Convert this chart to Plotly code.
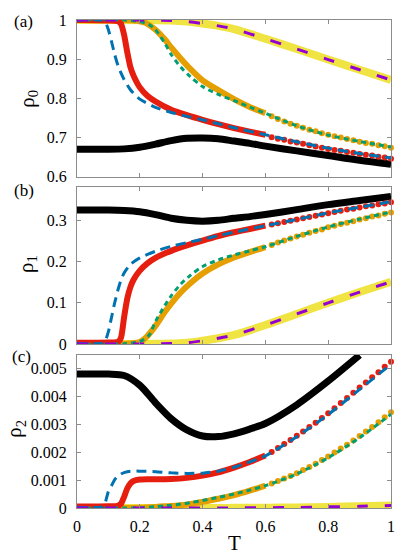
import plotly.graph_objects as go

# ---------------- data ----------------
# black: dense markers over the whole range
T_black = [0, 0.1, 0.15, 0.2, 0.25, 0.3, 0.35, 0.4, 0.45, 0.5, 0.55, 0.6, 0.7, 0.8, 0.9, 1.0]
black_a = [0.670, 0.670, 0.671, 0.675, 0.683, 0.692, 0.698, 0.699, 0.697, 0.691, 0.685, 0.678, 0.666, 0.654, 0.642, 0.632]
black_b = [0.325, 0.325, 0.324, 0.321, 0.314, 0.305, 0.300, 0.298, 0.300, 0.305, 0.309, 0.314, 0.326, 0.338, 0.348, 0.358]
T_black_c = [0, 0.1, 0.15, 0.2, 0.25, 0.3, 0.35, 0.4, 0.45, 0.5, 0.55, 0.6, 0.7, 0.8, 0.9]
black_c = [0.0048, 0.0048, 0.00475, 0.0044, 0.00377, 0.0032, 0.0028, 0.00258, 0.00256, 0.00266, 0.00283, 0.00303, 0.0037, 0.00455, 0.00548]

# red: dense markers up to T=0.6, sparse markers afterwards
T_red = [0, 0.1, 0.13, 0.14, 0.15, 0.16, 0.17, 0.18, 0.2, 0.225, 0.25, 0.3, 0.35, 0.4, 0.45, 0.5, 0.55, 0.6]
red_a = [1.0, 0.999, 0.997, 0.99, 0.962, 0.918, 0.880, 0.858, 0.828, 0.806, 0.792, 0.771, 0.757, 0.745, 0.734, 0.724, 0.715, 0.707]
red_b = [0.003, 0.004, 0.005, 0.015, 0.065, 0.110, 0.138, 0.156, 0.178, 0.196, 0.209, 0.226, 0.239, 0.251, 0.262, 0.271, 0.279, 0.287]
red_c = [0.00005, 0.00006, 0.00008, 0.00015, 0.0004, 0.0007, 0.00088, 0.00097, 0.00102, 0.00103, 0.00103, 0.00104, 0.00108, 0.00116, 0.00128, 0.00145, 0.00165, 0.00188]

T_sparse = [0.62, 0.64, 0.66, 0.68, 0.70, 0.72, 0.74, 0.76, 0.78, 0.80,
            0.82, 0.84, 0.86, 0.88, 0.90, 0.92, 0.94, 0.96, 0.98, 1.00]
red_a_s = [0.701, 0.697, 0.694, 0.690, 0.687, 0.684, 0.680, 0.677, 0.674, 0.671,
           0.668, 0.666, 0.663, 0.661, 0.658, 0.656, 0.654, 0.651, 0.649, 0.646]
red_b_s = [0.290, 0.293, 0.296, 0.299, 0.302, 0.305, 0.308, 0.311, 0.314, 0.317,
           0.320, 0.323, 0.326, 0.328, 0.331, 0.334, 0.336, 0.339, 0.341, 0.344]
red_c_s = [0.00201, 0.00215, 0.00229, 0.00244, 0.00259, 0.00274, 0.00290, 0.00306, 0.00323, 0.00340,
           0.00358, 0.00376, 0.00394, 0.00413, 0.00432, 0.00450, 0.00469, 0.00487, 0.00506, 0.00524]

# orange: dense markers up to T=0.6, sparse afterwards
T_orange = [0, 0.15, 0.2, 0.22, 0.25, 0.28, 0.3, 0.33, 0.36, 0.4, 0.45, 0.5, 0.55, 0.6]
orange_a = [1.0, 1.0, 0.997, 0.992, 0.975, 0.950, 0.930, 0.902, 0.876, 0.846, 0.821, 0.798, 0.778, 0.762]
orange_b = [0.0, 0.0005, 0.005, 0.016, 0.044, 0.078, 0.098, 0.125, 0.147, 0.171, 0.193, 0.210, 0.223, 0.235]
orange_c = [0.0, 0.0, 0.00001, 0.00002, 0.00004, 0.00006, 0.00007, 0.0001, 0.00014, 0.00022, 0.00033, 0.00046, 0.00062, 0.0008]
orange_a_s = [0.754, 0.747, 0.741, 0.735, 0.730, 0.725, 0.720, 0.716, 0.711, 0.707,
              0.703, 0.700, 0.696, 0.693, 0.689, 0.686, 0.684, 0.680, 0.678, 0.674]
orange_b_s = [0.240, 0.246, 0.251, 0.256, 0.261, 0.265, 0.270, 0.274, 0.278, 0.283,
              0.287, 0.291, 0.294, 0.298, 0.302, 0.305, 0.309, 0.312, 0.316, 0.319]
orange_c_s = [0.00088, 0.00097, 0.00106, 0.00115, 0.00125, 0.00136, 0.00147, 0.00159, 0.00172, 0.00185,
              0.00199, 0.00213, 0.00227, 0.00242, 0.00258, 0.00274, 0.00290, 0.00307, 0.00325, 0.00343]

# yellow (thick) and purple (dashed) coincide
T_yellow = [0, 0.3, 0.35, 0.4, 0.45, 0.5, 0.6, 0.7, 0.8, 0.9, 1.0]
yellow_a = [1.0, 0.999, 0.996, 0.991, 0.985, 0.977, 0.952, 0.926, 0.899, 0.873, 0.847]
yellow_b = [0.0, 0.001, 0.003, 0.008, 0.014, 0.022, 0.046, 0.073, 0.100, 0.126, 0.151]
yellow_c = [0.0, 0.0, 0.0, 0.0, 0.0, 0.000005, 0.00001, 0.00002, 0.00004, 0.00006, 0.00009]

# blue dashed
T_blue = [0, 0.08, 0.09, 0.1, 0.11, 0.12, 0.13, 0.14, 0.15, 0.17, 0.2, 0.25, 0.3, 0.35, 0.4, 0.45, 0.5, 0.6, 0.7, 0.8, 0.9, 1.0]
blue_a = [1.0, 1.0, 0.995, 0.975, 0.945, 0.912, 0.885, 0.865, 0.848, 0.822, 0.798, 0.777, 0.764, 0.754, 0.745, 0.735, 0.725, 0.707, 0.689, 0.673, 0.659, 0.648]
blue_b = [0.001, 0.002, 0.008, 0.030, 0.065, 0.100, 0.130, 0.155, 0.172, 0.193, 0.209, 0.225, 0.237, 0.246, 0.254, 0.263, 0.271, 0.287, 0.302, 0.318, 0.332, 0.345]
blue_c = [0.00003, 0.00004, 0.0002, 0.0006, 0.0008, 0.00102, 0.00115, 0.00122, 0.00127, 0.00132, 0.00132, 0.0013, 0.00126, 0.00124, 0.00125, 0.00132, 0.00146, 0.00187, 0.00255, 0.00335, 0.00425, 0.00515]

# green dashed
T_green = [0, 0.15, 0.2, 0.23, 0.25, 0.28, 0.3, 0.33, 0.36, 0.4, 0.45, 0.5, 0.55, 0.6, 0.7, 0.8, 0.9, 1.0]
green_a = [1.0, 1.0, 0.996, 0.988, 0.975, 0.940, 0.912, 0.880, 0.856, 0.830, 0.810, 0.794, 0.778, 0.762, 0.730, 0.706, 0.690, 0.676]
green_b = [0.0, 0.0005, 0.006, 0.022, 0.055, 0.094, 0.117, 0.145, 0.166, 0.188, 0.204, 0.216, 0.226, 0.236, 0.261, 0.284, 0.303, 0.320]
green_c = [0.0, 0.0, 0.00001, 0.00003, 0.00005, 0.00008, 0.0001, 0.00014, 0.00019, 0.00027, 0.00038, 0.0005, 0.00064, 0.0008, 0.00122, 0.0018, 0.00252, 0.00336]

x_ticks = [0, 0.2, 0.4, 0.6, 0.8, 1]
x_ticktext = ["0", "0.2", "0.4", "0.6", "0.8", "1"]
ya_ticks = [0.6, 0.7, 0.8, 0.9, 1.0]
ya_text = ["0.6", "0.7", "0.8", "0.9", "1"]
yb_ticks = [0, 0.1, 0.2, 0.3]
yb_text = ["0", "0.1", "0.2", "0.3"]
yc_ticks = [0, 0.001, 0.002, 0.003, 0.004, 0.005]
yc_text = ["0", "0.001", "0.002", "0.003", "0.004", "0.005"]

# ---------------- styling ----------------
BLACK = "#000000"
RED = "#E51E10"
ORANGE = "#E69F00"
YELLOW = "#F0E442"
BLUE = "#0072B2"
GREEN = "#009E73"
PURPLE = "#9400D3"
FONT = "Liberation Serif, Times New Roman, serif"

fig = go.Figure()

panels = [
    ("x", "y", black_a, T_black, red_a, red_a_s, orange_a, orange_a_s, yellow_a, blue_a, green_a),
    ("x2", "y2", black_b, T_black, red_b, red_b_s, orange_b, orange_b_s, yellow_b, blue_b, green_b),
    ("x3", "y3", black_c, T_black_c, red_c, red_c_s, orange_c, orange_c_s, yellow_c, blue_c, green_c),
]

for xa, ya, blk, tblk, rd, rds, org, orgs, yel, blu, grn in panels:
    common = dict(xaxis=xa, yaxis=ya, showlegend=False, hoverinfo="skip", cliponaxis=False)
    fig.add_trace(go.Scatter(x=T_yellow, y=yel, mode="lines",
                             line=dict(color=YELLOW, width=8, shape="spline", smoothing=0.8), **common))
    fig.add_trace(go.Scatter(x=T_orange, y=org, mode="lines",
                             line=dict(color=ORANGE, width=6, shape="spline", smoothing=0.8), **common))
    fig.add_trace(go.Scatter(x=T_sparse, y=orgs, mode="markers",
                             marker=dict(color=ORANGE, size=6, line=dict(width=0)), **common))
    fig.add_trace(go.Scatter(x=tblk, y=blk, mode="lines",
                             line=dict(color=BLACK, width=7, shape="spline", smoothing=0.8), **common))
    fig.add_trace(go.Scatter(x=T_red, y=rd, mode="lines",
                             line=dict(color=RED, width=6, shape="spline", smoothing=0.6), **common))
    fig.add_trace(go.Scatter(x=T_sparse, y=rds, mode="markers",
                             marker=dict(color=RED, size=6, line=dict(width=0)), **common))
    fig.add_trace(go.Scatter(x=T_green, y=grn, mode="lines",
                             line=dict(color=GREEN, width=3, dash="5px,4px", shape="spline", smoothing=0.8), **common))
    fig.add_trace(go.Scatter(x=T_blue, y=blu, mode="lines",
                             line=dict(color=BLUE, width=3, dash="10px,6px", shape="spline", smoothing=0.6), **common))
    fig.add_trace(go.Scatter(x=T_yellow, y=yel, mode="lines",
                             line=dict(color=PURPLE, width=3, dash="11px,17px", shape="spline", smoothing=0.8), **common))

axis_common = dict(showline=True, linecolor="#8c8c8c", linewidth=1, mirror="ticks",
                   ticks="inside", ticklen=4, tickcolor="#8c8c8c", tickwidth=1,
                   showgrid=False, zeroline=False,
                   tickfont=dict(family=FONT, size=16, color="black"))

def xaxis(anchor, show):
    return dict(axis_common, domain=[0, 1], range=[0, 1], anchor=anchor,
                tickvals=x_ticks, ticktext=x_ticktext, showticklabels=show,
                ticklabelstandoff=4)

fig.update_layout(
    width=407, height=555,
    margin=dict(l=77, r=16, t=16, b=47),
    paper_bgcolor="white", plot_bgcolor="white",
    font=dict(family=FONT, size=16, color="black"),
    xaxis=xaxis("y", False),
    xaxis2=xaxis("y2", False),
    xaxis3=xaxis("y3", True),
    yaxis=dict(axis_common, domain=[0.6789, 1.0], range=[0.6, 1.0], anchor="x",
               tickvals=ya_ticks, ticktext=ya_text, ticklabelstandoff=6),
    yaxis2=dict(axis_common, domain=[0.336, 0.6571], range=[0, 0.38], anchor="x2",
                tickvals=yb_ticks, ticktext=yb_text, ticklabelstandoff=6),
    yaxis3=dict(axis_common, domain=[0.0, 0.3144], range=[0, 0.0055], anchor="x3",
                tickvals=yc_ticks, ticktext=yc_text, ticklabelstandoff=6),
)

ann = dict(xref="paper", yref="paper", showarrow=False, xanchor="center", yanchor="middle")
fig.add_annotation(text="ρ<sub>0</sub>", x=-0.159, y=0.839, textangle=-90,
                   font=dict(family=FONT, size=21), **ann)
fig.add_annotation(text="ρ<sub>1</sub>", x=-0.159, y=0.50, textangle=-90,
                   font=dict(family=FONT, size=21), **ann)
fig.add_annotation(text="ρ<sub>2</sub>", x=-0.197, y=0.1626, textangle=-90,
                   font=dict(family=FONT, size=21), **ann)
fig.add_annotation(text="(a)", x=-0.169, y=0.996, font=dict(family=FONT, size=17), **ann)
fig.add_annotation(text="(b)", x=-0.169, y=0.650, font=dict(family=FONT, size=17), **ann)
fig.add_annotation(text="(c)", x=-0.178, y=0.311, font=dict(family=FONT, size=17), **ann)
fig.add_annotation(text="T", x=0.5, y=-0.072, font=dict(family=FONT, size=21), **ann)

fig.write_html("out.html", config={"displayModeBar": False},
               post_script="document.body.style.margin='0px';document.body.style.overflow='hidden';")
